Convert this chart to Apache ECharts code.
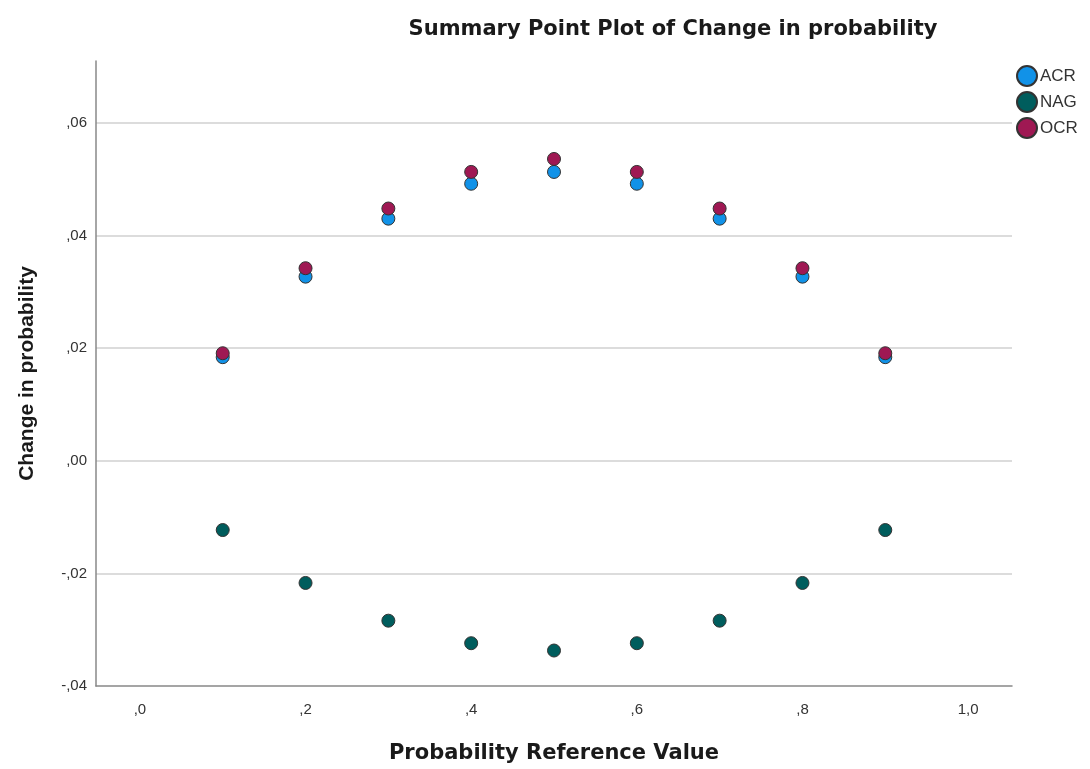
<!DOCTYPE html>
<html>
<head>
<meta charset="utf-8">
<style>html,body{margin:0;padding:0;background:#fff;}#c{width:1090px;height:769px;}</style>
<script src="https://cdn.jsdelivr.net/npm/echarts@6/dist/echarts.min.js"></script>
</head>
<body>
<div id="c"></div>
<script>
const xValues = [0.1, 0.2, 0.3, 0.4, 0.5, 0.6, 0.7, 0.8, 0.9];
const acr = [0.0184, 0.0327, 0.0430, 0.0492, 0.0513, 0.0492, 0.0430, 0.0327, 0.0184];
const nag = [-0.0123, -0.0217, -0.0284, -0.0324, -0.0337, -0.0324, -0.0284, -0.0217, -0.0123];
const ocr = [0.0191, 0.0342, 0.0448, 0.0513, 0.0536, 0.0513, 0.0448, 0.0342, 0.0191];
const xTicks = [0, 0.2, 0.4, 0.6, 0.8, 1.0];
const seriesNames = ['ACR', 'NAG', 'OCR'];
const colors = ['#1192e8', '#005d5d', '#9f1853'];

function fmt(v, d) {
  let s = Math.abs(v).toFixed(d).replace('.', ',');
  if (s.startsWith('0,')) s = s.slice(1);
  return (v < -1e-9 ? '-' : '') + s;
}
const font = 'Liberation Sans, Arial, sans-serif';
const wide = 'DejaVu Sans, Liberation Sans, sans-serif';
const chart = echarts.init(document.getElementById('c'), null, {renderer: 'canvas'});
const dataSets = [acr, nag, ocr];
chart.setOption({
  backgroundColor: '#fff',
  animation: false,
  title: {
    text: 'Summary Point Plot of Change in probability',
    left: 668, top: 14, textAlign: 'center',
    textStyle: {fontFamily: wide, fontSize: 21, fontWeight: 'bold', color: '#1a1a1a'}
  },
  legend: {
    orient: 'vertical', left: 1011, top: 60, itemGap: 4,
    itemWidth: 20, itemHeight: 20, icon: 'circle',
    textStyle: {fontFamily: font, fontSize: 17, color: '#333', padding: [0, 0, 0, -2]},
    data: seriesNames
  },
  grid: {left: 96, right: 78, top: 61, bottom: 81, containLabel: false},
  xAxis: {
    type: 'value', min: -0.053, max: 1.053,
    name: 'Probability Reference Value', nameLocation: 'middle', nameGap: 57,
    nameTextStyle: {fontFamily: wide, fontSize: 21, fontWeight: 'bold', color: '#1a1a1a'},
    axisLine: {show: true, onZero: false, lineStyle: {color: '#888', width: 1.5}},
    axisTick: {show: false},
    splitLine: {show: false},
    axisLabel: {customValues: xTicks, formatter: v => fmt(v, 1), margin: 16,
      fontFamily: font, fontSize: 15, color: '#333'}
  },
  yAxis: {
    type: 'value', min: -0.04, max: 0.071, interval: 0.02,
    name: 'Change in probability', nameLocation: 'middle', nameGap: 58,
    nameTextStyle: {fontFamily: font, fontSize: 21, fontWeight: 'bold', color: '#1a1a1a'},
    axisLine: {show: true, onZero: false, lineStyle: {color: '#888', width: 1.5}},
    axisTick: {show: false},
    splitLine: {show: true, showMaxLine: false, showMinLine: false, lineStyle: {color: '#d0d0d0', width: 1.5}},
    axisLabel: {formatter: v => fmt(v, 2), margin: 9, showMaxLabel: false,
      fontFamily: font, fontSize: 15, color: '#333'}
  },
  series: seriesNames.map((n, i) => ({
    name: n, type: 'scatter', symbol: 'circle', symbolSize: 13,
    itemStyle: {color: colors[i], opacity: 1, borderColor: '#333', borderWidth: 1},
    data: xValues.map((x, j) => [x, dataSets[i][j]])
  }))
});
</script>
</body>
</html>
